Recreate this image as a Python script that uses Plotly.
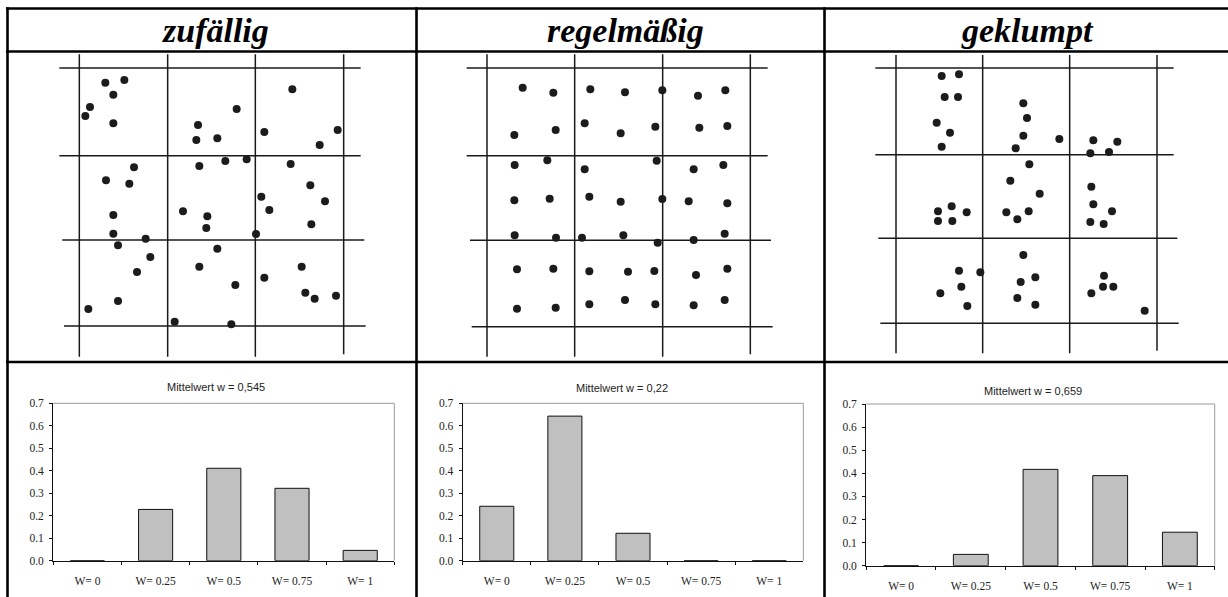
import plotly.graph_objects as go

# ---------------- data ----------------
categories = ["W= 0", "W= 0.25", "W= 0.5", "W= 0.75", "W= 1"]
zufaellig_freq = [0, 0.228, 0.411, 0.322, 0.046]
regel_freq = [0.242, 0.643, 0.122, 0, 0]
geklumpt_freq = [0, 0.049, 0.417, 0.390, 0.145]

panel_titles = ["zufällig", "regelmäßig", "geklumpt"]
mean_labels = ["Mittelwert w = 0,545", "Mittelwert w = 0,22", "Mittelwert w = 0,659"]
y_ticks = [0, 0.1, 0.2, 0.3, 0.4, 0.5, 0.6, 0.7]

# point positions in field units (0..1230 across, 0..1110 down)
zuf_x = [316, 373, 340, 270, 256, 340, 877, 710, 594, 589, 652, 793, 1013, 959,
         402, 318, 388, 598, 676, 740, 872, 931, 975, 784, 808, 934,
         340, 549, 622, 619, 768, 340, 437, 354, 451, 411,
         652, 598, 706, 793, 905, 916, 944, 1008, 354, 265, 524, 694]
zuf_y = [248, 240, 284, 321, 348, 370, 268, 327, 375, 420, 415, 396, 390, 435,
         502, 541, 551, 498, 483, 478, 492, 556, 604, 590, 630, 673,
         645, 634, 649, 684, 702, 701, 716, 736, 771, 816,
         746, 800, 855, 833, 800, 878, 896, 887, 903, 927, 965, 973]

reg_x = [338, 430, 541, 645, 757, 864, 946,
         313, 437, 524, 632, 736, 868, 952,
         314, 412, 524, 740, 851, 940,
         313, 419, 538, 632, 757, 836, 952,
         314, 438, 516, 640, 743, 851, 944,
         321, 430, 538, 654, 733, 858, 952,
         321, 437, 538, 645, 736, 851, 944]
reg_y = [263, 278, 268, 277, 271, 287, 271,
         405, 390, 370, 400, 380, 383, 378,
         495, 481, 508, 482, 508, 495,
         601, 596, 590, 605, 597, 604, 610,
         706, 713, 713, 706, 728, 720, 701,
         808, 806, 814, 815, 813, 825, 806,
         926, 923, 913, 900, 913, 916, 900]

gek_x = [371, 423, 380, 420, 356, 396, 371,
         616, 627, 616, 593, 724,
         826, 898, 817, 873,
         634, 577, 665, 565, 598, 632,
         360, 401, 446, 360, 403,
         820, 826, 882, 817, 857,
         616, 423, 487, 430, 367, 448,
         608, 652, 598, 652,
         858, 855, 886, 820,
         980]
gek_y = [228, 223, 291, 291, 368, 398, 440,
         310, 354, 407, 445, 417,
         421, 425, 460, 456,
         493, 542, 581, 637, 658, 634,
         634, 619, 637, 663, 663,
         560, 613, 634, 666, 672,
         765, 812, 817, 860, 880, 918,
         846, 832, 894, 914,
         827, 860, 860, 880,
         932]

# quadrat grid lines in field units: horizontal (y, x_start, x_end), vertical (x, y_start, y_end)
grid_h = [
    [(204, 178, 1082), (467, 178, 1082), (720, 187, 1093), (978, 192, 1097)],
    [(204, 170, 1073), (467, 170, 1073), (721, 180, 1083), (980, 185, 1088)],
    [(204, 172, 1067), (464, 172, 1067), (715, 181, 1078), (970, 187, 1082)],
]
grid_v = [
    [(238, 163, 1070), (503, 163, 1070), (766, 163, 1070), (1031, 163, 1063)],
    [(231, 163, 1070), (494, 163, 1070), (758, 163, 1070), (1021, 163, 1063)],
    [(234, 165, 1060), (494, 165, 1060), (755, 165, 1060), (1017, 165, 1052)],
]

# ---------------- layout helpers ----------------
W, H = 1228, 597


def fx(p):
    return p / W


def fy(p):
    return 1 - p / H


fig = go.Figure()

serif = "Liberation Serif"
sans = "Liberation Sans"

# ---------------- dot panels ----------------
panel_left = [0, 410, 818]
dots = [(zuf_x, zuf_y), (reg_x, reg_y), (gek_x, gek_y)]
for i in range(3):
    ax = i + 4
    xs, ys = [], []
    for (yy, x0, x1) in grid_h[i]:
        xs += [x0, x1, None]
        ys += [yy, yy, None]
    for (xx, y0, y1) in grid_v[i]:
        xs += [xx, xx, None]
        ys += [y0, y1, None]
    fig.add_trace(go.Scatter(x=xs, y=ys, mode="lines",
                             line=dict(color="#1a1a1a", width=1.5),
                             xaxis=f"x{ax}", yaxis=f"y{ax}",
                             hoverinfo="skip", showlegend=False))
    fig.add_trace(go.Scatter(x=dots[i][0], y=dots[i][1], mode="markers",
                             marker=dict(size=8, color="#1c1c1c",
                                         line=dict(width=0)),
                             xaxis=f"x{ax}", yaxis=f"y{ax}",
                             hoverinfo="skip", showlegend=False))
    fig.update_layout(**{
        f"xaxis{ax}": dict(domain=[fx(panel_left[i]), fx(panel_left[i] + 410)],
                           range=[0, 1230], visible=False, anchor=f"y{ax}",
                           fixedrange=True),
        f"yaxis{ax}": dict(domain=[fy(370), 1], range=[1110, 0],
                           visible=False, anchor=f"x{ax}", fixedrange=True),
    })

# ---------------- bar charts ----------------
bar_sets = [zufaellig_freq, regel_freq, geklumpt_freq]
bar_x_dom = [(53.3, 394.3), (462.7, 803.3), (866.3, 1214.7)]
bar_y_dom = [(403.3, 560.7), (403.3, 560.7), (404, 565.7)]
title_pos = [(216, 387.3), (621.7, 388.3), (1033, 390.7)]

shapes = []
annotations = []
for i in range(3):
    n = "" if i == 0 else str(i + 1)
    ov = str(i + 7)
    fig.add_trace(go.Bar(x=categories, y=bar_sets[i],
                         marker=dict(color="#c0c0c0",
                                     line=dict(color="#111111", width=1)),
                         xaxis=f"x{n}", yaxis=f"y{n}",
                         hoverinfo="skip", showlegend=False))
    fig.update_layout(**{
        f"xaxis{n}": dict(domain=[fx(bar_x_dom[i][0]), fx(bar_x_dom[i][1])],
                          anchor=f"y{n}", type="category",
                          tickson="boundaries", ticks="outside", ticklen=3,
                          tickcolor="#111", tickwidth=1,
                          showline=True, linecolor="#111", linewidth=1.3,
                          showgrid=False, zeroline=False,
                          tickfont=dict(family=serif, size=11.5, color="#222"),
                          ticklabelstandoff=9, fixedrange=True),
        f"yaxis{n}": dict(domain=[fy(bar_y_dom[i][1]), fy(bar_y_dom[i][0])],
                          anchor=f"x{n}", range=[0, 0.7],
                          tickvals=y_ticks, tickformat=".1f",
                          ticks="outside", ticklen=3, tickcolor="#111",
                          tickwidth=1,
                          showline=True, linecolor="#111", linewidth=1.3,
                          showgrid=False, zeroline=False,
                          tickfont=dict(family=serif, size=11.5, color="#222"),
                          ticklabelstandoff=3, fixedrange=True),
        # overlay axes: inner half of the crossing tick marks
        f"xaxis{ov}": dict(overlaying=f"x{n}", anchor=f"y{n}",
                           range=[-0.5, 4.5],
                           tickvals=[-0.5, 0.5, 1.5, 2.5, 3.5, 4.5],
                           ticks="inside", ticklen=3, tickcolor="#111",
                           tickwidth=1, showticklabels=False,
                           showline=False, showgrid=False, zeroline=False,
                           fixedrange=True),
        f"yaxis{ov}": dict(overlaying=f"y{n}", anchor=f"x{n}",
                           range=[0, 0.7], tickvals=y_ticks,
                           ticks="inside", ticklen=3, tickcolor="#111",
                           tickwidth=1, showticklabels=False,
                           showline=False, showgrid=False, zeroline=False,
                           fixedrange=True),
    })
    xr = f"x{n} domain"
    yr = f"y{n} domain"
    shapes.append(dict(type="line", xref=xr, yref=yr, x0=0, x1=1, y0=1, y1=1,
                       line=dict(color="#9a9a9a", width=1)))
    shapes.append(dict(type="line", xref=xr, yref=yr, x0=1, x1=1, y0=0, y1=1,
                       line=dict(color="#9a9a9a", width=1)))
    annotations.append(dict(text=mean_labels[i], xref="paper", yref="paper",
                            x=fx(title_pos[i][0]), y=fy(title_pos[i][1]),
                            xanchor="center", yanchor="middle", showarrow=False,
                            font=dict(family=sans, size=11, color="#222")))

# ---------------- table frame ----------------
tbl = dict(color="black", width=2.6)
for yy in [8.5, 51.5, 362]:
    shapes.append(dict(type="line", xref="paper", yref="paper",
                       x0=fx(6), x1=fx(1228), y0=fy(yy), y1=fy(yy), line=tbl))
for xx in [7.5, 416.5, 824.5]:
    shapes.append(dict(type="line", xref="paper", yref="paper",
                       x0=fx(xx), x1=fx(xx), y0=fy(7.3), y1=fy(597), line=tbl))

header_x = [215, 625.7, 1027.7]
for i in range(3):
    annotations.append(dict(text=panel_titles[i],
                            xref="paper", yref="paper",
                            x=fx(header_x[i]), y=fy(30.5),
                            xanchor="center", yanchor="middle", showarrow=False,
                            font=dict(family=serif, size=34,
                                      color="black", weight="bold",
                                      style="italic")))

fig.update_layout(width=W, height=H,
                  margin=dict(l=0, r=0, t=0, b=0, autoexpand=False),
                  paper_bgcolor="white", plot_bgcolor="white",
                  bargap=0.5, showlegend=False,
                  shapes=shapes, annotations=annotations)

fig.write_html("out.html", config={"displayModeBar": False},
               post_script="document.body.style.margin='0';"
                           "document.body.style.overflow='hidden';")
